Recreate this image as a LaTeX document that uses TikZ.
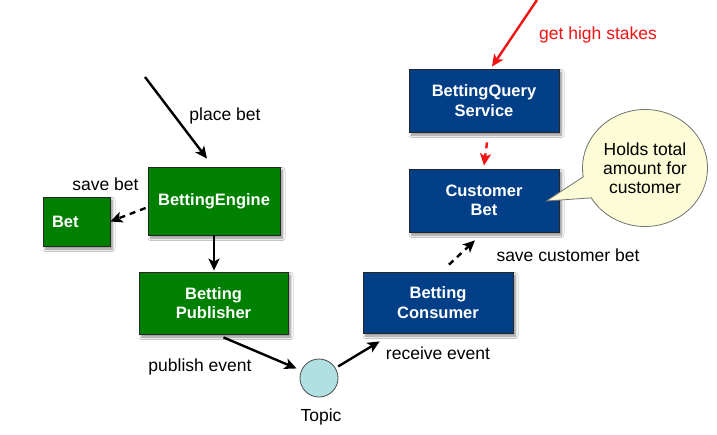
\documentclass[tikz,border=0pt]{standalone}
\usepackage{fontspec}
\setmainfont{Liberation Sans}
\usetikzlibrary{arrows.meta,shadows.blur,shapes.callouts,calc}
\definecolor{boxgreen}{RGB}{0,128,0}
\definecolor{boxblue}{RGB}{3,63,135}
\definecolor{topicfill}{RGB}{176,224,226}
\definecolor{notefill}{RGB}{252,252,214}
\definecolor{redarrow}{RGB}{240,20,20}
\tikzset{
  box/.style={draw=black!85, line width=0.8pt, text=white, align=center,
    font=\fontsize{16.5}{19.5}\selectfont\bfseries, inner sep=0pt,
    blur shadow={shadow xshift=2.5pt, shadow yshift=-3pt, shadow blur steps=6, shadow blur radius=2.5pt, shadow opacity=45}},
  gbox/.style={box, fill=boxgreen},
  bbox/.style={box, fill=boxblue},
  lbl/.style={font=\fontsize{17.5}{20}\selectfont, inner sep=0pt},
  arr/.style={line width=2.4pt, -{Stealth[length=12pt,width=11pt,inset=3pt]}},
  darr/.style={arr, dash pattern=on 6pt off 5pt},
}
\begin{document}
\begin{tikzpicture}[x=1pt,y=-1pt]
\useasboundingbox[fill=white] (0,0) rectangle (717,434);
% nodes
\node[gbox, minimum width=67, minimum height=49, text width=49, align=left] (bet) at (76.5,221.5) {Bet};
\node[gbox, minimum width=132, minimum height=68] (eng) at (214,201) {BettingEngine};
\node[gbox, minimum width=149, minimum height=62] (pub) at (213.5,303) {Betting\\Publisher};
\node[bbox, minimum width=150, minimum height=61] (cons) at (438,302.5) {Betting\\Consumer};
\node[bbox, minimum width=150, minimum height=63] (query) at (484,100.5) {BettingQuery\\Service};
\node[bbox, minimum width=150, minimum height=63] (cbet) at (484,200.5) {Customer\\Bet};
\node[circle, draw=black!70, line width=0.8pt, fill=topicfill, minimum size=38, inner sep=0pt] (topic) at (319,378) {};
\node[ellipse callout, draw=black!55, line width=0.8pt, fill=notefill, minimum width=125, minimum height=117, inner sep=0pt,
  callout absolute pointer={($(cbet.east)+(-13,0.5)$)}, callout pointer arc=22, align=center,
  font=\fontsize{17.5}{19}\selectfont] (note) at (645,168) {Holds total\\amount for\\customer};
% labels
\node[lbl] (lplace) at (225,116) {place bet};
\node[lbl] (lsave) at (105.5,184) {save bet};
\node[lbl] (lpub) at (200,367) {publish event};
\node[lbl] (lrec) at (438,353) {receive event};
\node[lbl] (ltopic) at (321,417) {Topic};
\node[lbl] (lscb) at (568,255) {save customer bet};
\node[lbl, text=redarrow] (lhigh) at (598,35) {get high stakes};
% connectors
\coordinate (pbstart) at (145,77);
\coordinate (hsstart) at (537,0);
\draw[arr] (pbstart) -- ($(eng.north)+(-7,-8)$);
\draw[darr] ($(eng.west)+(-2,7)$) -- (bet.east);
\draw[arr] (eng.south) -- ($(pub.north)+(0.5,-1)$);
\draw[arr, shorten >=5pt] ($(pub.south)+(10,3)$) -- (topic);
\draw[arr, shorten <=3pt] (topic) -- ($(cons.south west)+(17,8)$);
\draw[darr] ($(cons.north)+(11,-7)$) -- ($(cbet.south)+(-9,8)$);
\draw[arr, redarrow] (hsstart) -- ($(query.north)+(8,-2)$);
\draw[darr, redarrow] ($(query.south)+(3,10)$) -- ($(cbet.north)+(0,-3)$);
\end{tikzpicture}
\end{document}
